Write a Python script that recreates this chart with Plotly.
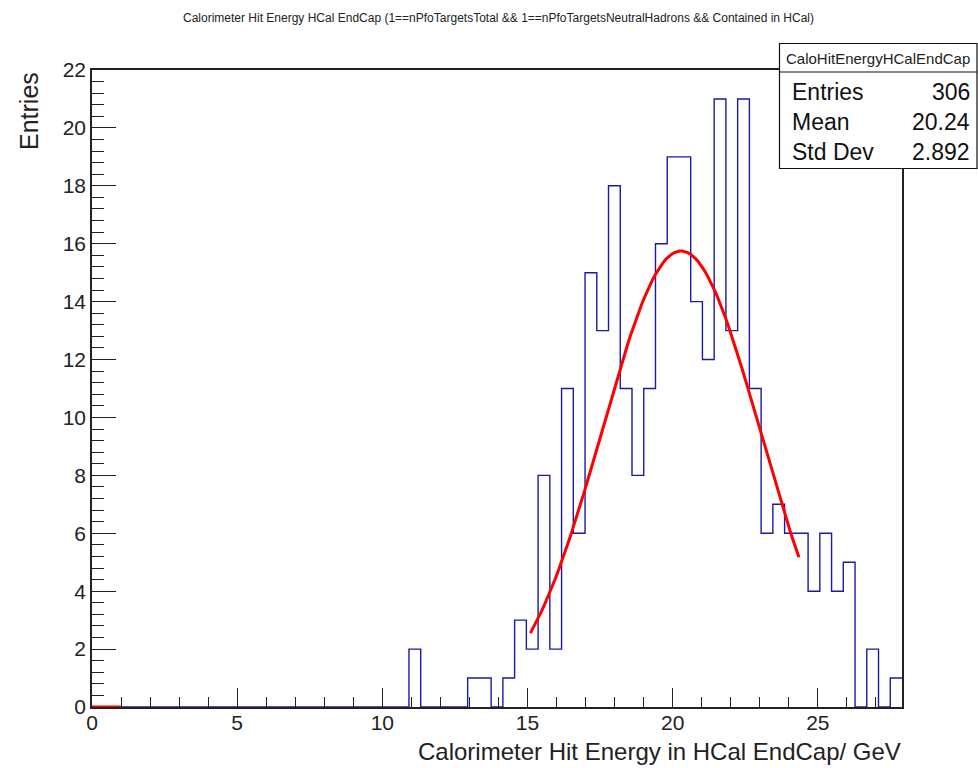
import numpy as np
import plotly.graph_objects as go

# Histogram binning and contents
n_bins = 69
x_min, x_max = 0.0, 27.9
counts = [0] * 27 + [
    2, 0, 0, 0, 0, 1, 1, 0, 1, 3, 2, 8, 2, 11, 6, 15, 13, 18, 11, 8, 11,
    16, 19, 19, 14, 12, 21, 13, 21, 11, 6, 7, 6, 6, 4, 6, 4, 5, 0, 2, 0, 1,
]

# Gaussian fit result and its drawing range
fit_constant = 15.75
fit_mean = 20.29
fit_sigma = 2.72
fit_range = (15.1, 24.35)
# Function segment drawn on the baseline
baseline_func_x = [0.0, 1.0]
baseline_func_y = [0.0, 0.0]

# Statistics box contents
stats_name = "CaloHitEnergyHCalEndCap"
stats_labels = ["Entries", "Mean", "Std Dev"]
stats_values = ["306", "20.24", "2.892"]

title_text = ("Calorimeter Hit Energy HCal EndCap (1==nPfoTargetsTotal && "
              "1==nPfoTargetsNeutralHadrons && Contained in HCal)")
x_title = "Calorimeter Hit Energy in HCal EndCap/ GeV"
y_title = "Entries"

# ---------------------------------------------------------------------------
W, H = 978, 768
ML, MR, MT, MB = 92, 76, 70, 61
PW, PH = W - ML - MR, H - MT - MB
FONT = "Liberation Sans, Arial, Helvetica, sans-serif"


def px(x):
    return (x - ML) / PW


def py(y):
    return (H - MB - y) / PH


edges = np.linspace(x_min, x_max, n_bins + 1)
step_y = list(counts) + [counts[-1]]

fx = np.linspace(fit_range[0], fit_range[1], 100)
fy = fit_constant * np.exp(-0.5 * ((fx - fit_mean) / fit_sigma) ** 2)

fig = go.Figure()
fig.add_trace(go.Scatter(
    x=edges, y=step_y, mode="lines", line_shape="hv",
    line=dict(color="#1a1aa6", width=1.4), hoverinfo="skip",
))
fig.add_trace(go.Scatter(
    x=fx, y=fy, mode="lines", line=dict(color="#ff0000", width=3),
    hoverinfo="skip",
))
fig.add_trace(go.Scatter(
    x=baseline_func_x, y=baseline_func_y, mode="lines",
    line=dict(color="#ff0000", width=3), hoverinfo="skip", cliponaxis=False,
))

axis_common = dict(
    showline=True, linecolor="#222222", linewidth=1.5, mirror=True,
    ticks="inside", tickcolor="#222222", tickwidth=1,
    showgrid=False, zeroline=False,
    tickfont=dict(family=FONT, size=21, color="#222222"),
)
fig.update_xaxes(range=[x_min, x_max], tick0=0, dtick=5, ticklen=19,
                 ticklabelstandoff=-4,
                 minor=dict(dtick=1, ticklen=10, ticks="inside",
                            tickcolor="#222222", tickwidth=1),
                 **axis_common)
fig.update_yaxes(range=[0, 22], tick0=0, dtick=2, ticklen=24,
                 minor=dict(dtick=0.4, ticklen=12, ticks="inside",
                            tickcolor="#222222", tickwidth=1),
                 **axis_common)

annotations = [
    dict(text=title_text, x=px(498), y=py(18), xref="paper", yref="paper",
         xanchor="center", yanchor="middle", showarrow=False,
         font=dict(family=FONT, size=12, color="#222222")),
    dict(text=x_title, x=px(903), y=py(752), xref="paper", yref="paper",
         xanchor="right", yanchor="middle", showarrow=False,
         font=dict(family=FONT, size=24, color="#222222")),
    dict(text=y_title, x=px(29), y=1.0, xref="paper", yref="paper",
         xanchor="center", yanchor="top", textangle=-90, showarrow=False,
         font=dict(family=FONT, size=25, color="#222222")),
    dict(text=stats_name, x=px(878), y=py(58), xref="paper", yref="paper",
         xanchor="center", yanchor="middle", showarrow=False,
         font=dict(family=FONT, size=15, color="#222222")),
]
row_y = [92.5, 121.5, 151.5]
for lab, val, ry in zip(stats_labels, stats_values, row_y):
    annotations.append(dict(text=lab, x=px(790), y=py(ry), xref="paper",
                            yref="paper", xanchor="left", yanchor="middle",
                            showarrow=False,
                            font=dict(family=FONT, size=23, color="#111111")))
    annotations.append(dict(text=val, x=px(972), y=py(ry), xref="paper",
                            yref="paper", xanchor="right", yanchor="middle",
                            showarrow=False,
                            font=dict(family=FONT, size=23, color="#111111")))

shapes = [
    dict(type="rect", xref="paper", yref="paper",
         x0=px(779.5), x1=px(977), y0=py(168.5), y1=py(43.5),
         line=dict(color="#111111", width=1.2), fillcolor="white",
         layer="above"),
    dict(type="line", xref="paper", yref="paper",
         x0=px(779.5), x1=px(977), y0=py(72), y1=py(72),
         line=dict(color="#111111", width=1.2), layer="above"),
]

fig.update_layout(
    width=W, height=H,
    margin=dict(l=ML, r=MR, t=MT, b=MB, pad=0),
    paper_bgcolor="white", plot_bgcolor="white",
    showlegend=False,
    annotations=annotations, shapes=shapes,
    font=dict(family=FONT),
)

fig.write_html("out.html", config={"displayModeBar": False})
